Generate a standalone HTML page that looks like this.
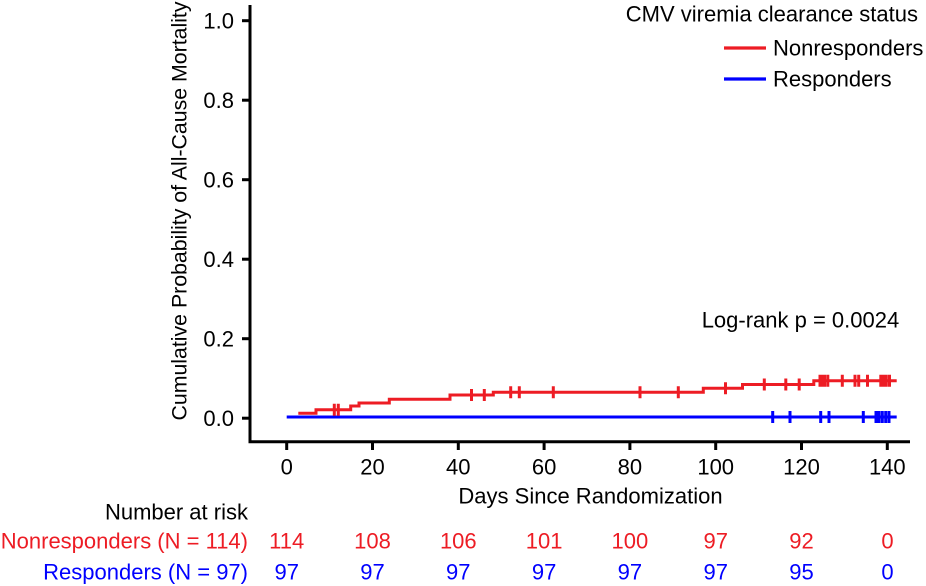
<!DOCTYPE html>
<html>
<head>
<meta charset="utf-8">
<style>
html,body{margin:0;padding:0;background:#fff;}
svg{display:block;}
text{font-family:"Liberation Sans",Arial,sans-serif;font-size:22px;fill:#000;}
.r{fill:#ED1C24;}
.b{fill:#0000FF;}
</style>
</head>
<body>
<svg width="926" height="586" viewBox="0 0 926 586" xmlns="http://www.w3.org/2000/svg">
<!-- axes -->
<g stroke="#000" stroke-width="3" fill="none">
<line x1="250" y1="5" x2="250" y2="443"/>
<line x1="248.5" y1="441.7" x2="910" y2="441.7"/>
<!-- y ticks -->
<line x1="242" y1="20.7" x2="250" y2="20.7"/>
<line x1="242" y1="100.2" x2="250" y2="100.2"/>
<line x1="242" y1="179.7" x2="250" y2="179.7"/>
<line x1="242" y1="259.2" x2="250" y2="259.2"/>
<line x1="242" y1="338.7" x2="250" y2="338.7"/>
<line x1="242" y1="418.2" x2="250" y2="418.2"/>
<!-- x ticks -->
<line x1="286.7" y1="442" x2="286.7" y2="450"/>
<line x1="372.5" y1="442" x2="372.5" y2="450"/>
<line x1="458.3" y1="442" x2="458.3" y2="450"/>
<line x1="544.1" y1="442" x2="544.1" y2="450"/>
<line x1="629.9" y1="442" x2="629.9" y2="450"/>
<line x1="715.7" y1="442" x2="715.7" y2="450"/>
<line x1="801.5" y1="442" x2="801.5" y2="450"/>
<line x1="887.3" y1="442" x2="887.3" y2="450"/>
</g>
<!-- y tick labels -->
<g text-anchor="end">
<text x="234" y="28.7">1.0</text>
<text x="234" y="108.2">0.8</text>
<text x="234" y="187.7">0.6</text>
<text x="234" y="267.2">0.4</text>
<text x="234" y="346.7">0.2</text>
<text x="234" y="426.2">0.0</text>
</g>
<!-- x tick labels -->
<g text-anchor="middle">
<text x="286.7" y="474.5">0</text>
<text x="372.5" y="474.5">20</text>
<text x="458.3" y="474.5">40</text>
<text x="544.1" y="474.5">60</text>
<text x="629.9" y="474.5">80</text>
<text x="715.7" y="474.5">100</text>
<text x="801.5" y="474.5">120</text>
<text x="887.3" y="474.5">140</text>
</g>
<text x="590.5" y="503.5" text-anchor="middle" style="font-size:22px">Days Since Randomization</text>
<text transform="translate(186.5,211) rotate(-90)" text-anchor="middle" style="font-size:21.3px">Cumulative Probability of All-Cause Mortality</text>

<!-- legend -->
<text x="918" y="21.3" text-anchor="end">CMV viremia clearance status</text>
<line x1="724" y1="48" x2="766" y2="48" stroke="#ED1C24" stroke-width="3.3"/>
<text x="773" y="55.5">Nonresponders</text>
<line x1="724" y1="79" x2="766" y2="79" stroke="#0000FF" stroke-width="3.3"/>
<text x="773" y="86.5">Responders</text>

<text x="701.7" y="327.5" style="font-size:22px">Log-rank p = 0.0024</text>

<!-- blue series -->
<g stroke="#0000FF" stroke-width="3" fill="none">
<line x1="286.7" y1="417" x2="896.7" y2="417"/>
<path d="M772.7 411V423M790 411V423M820.7 411V423M829 411V423M863.3 411V423M876 411V423M879 411V423M882.3 411V423M885.7 411V423M889 411V423"/>
</g>
<!-- red series -->
<g stroke="#ED1C24" stroke-width="3" fill="none">
<path d="M298.3 413.3H316V409.7H350.7V406H359V403H389.3V399.3H450V395H493.3V392.3H703.3V388.3H742.5V384.5H813.8V380.7H896.7"/>
<path d="M334.3 403.7V415.7M338.3 403.7V415.7
M471.5 389V401M484.3 389V401
M510.7 386.3V398.3M519.3 386.3V398.3M553.3 386.3V398.3M640 386.3V398.3M678.3 386.3V398.3
M725.5 382.3V394.3
M764.3 378.5V390.5M785.8 378.5V390.5M799.2 378.5V390.5
M820 374.7V386.7M822.3 374.7V386.7M824.6 374.7V386.7M827.8 374.7V386.7M842.3 374.7V386.7M855 374.7V386.7M858.7 374.7V386.7M867.5 374.7V386.7M880.8 374.7V386.7M883.5 374.7V386.7M886.3 374.7V386.7M889.5 374.7V386.7"/>
</g>

<!-- number at risk -->
<text x="248" y="519.5" text-anchor="end">Number at risk</text>
<text x="248" y="548.5" text-anchor="end" class="r">Nonresponders (N = 114)</text>
<text x="248" y="579.5" text-anchor="end" class="b">Responders (N = 97)</text>
<g text-anchor="middle">
<text x="286.7" y="548.5" class="r">114</text>
<text x="372.5" y="548.5" class="r">108</text>
<text x="458.3" y="548.5" class="r">106</text>
<text x="544.1" y="548.5" class="r">101</text>
<text x="629.9" y="548.5" class="r">100</text>
<text x="715.7" y="548.5" class="r">97</text>
<text x="801.5" y="548.5" class="r">92</text>
<text x="887.5" y="548.5" class="r">0</text>
</g>
<g text-anchor="middle">
<text x="286.7" y="579.5" class="b">97</text>
<text x="372.5" y="579.5" class="b">97</text>
<text x="458.3" y="579.5" class="b">97</text>
<text x="544.1" y="579.5" class="b">97</text>
<text x="629.9" y="579.5" class="b">97</text>
<text x="715.7" y="579.5" class="b">97</text>
<text x="801.5" y="579.5" class="b">95</text>
<text x="887.5" y="579.5" class="b">0</text>
</g>
</svg>
</body>
</html>
